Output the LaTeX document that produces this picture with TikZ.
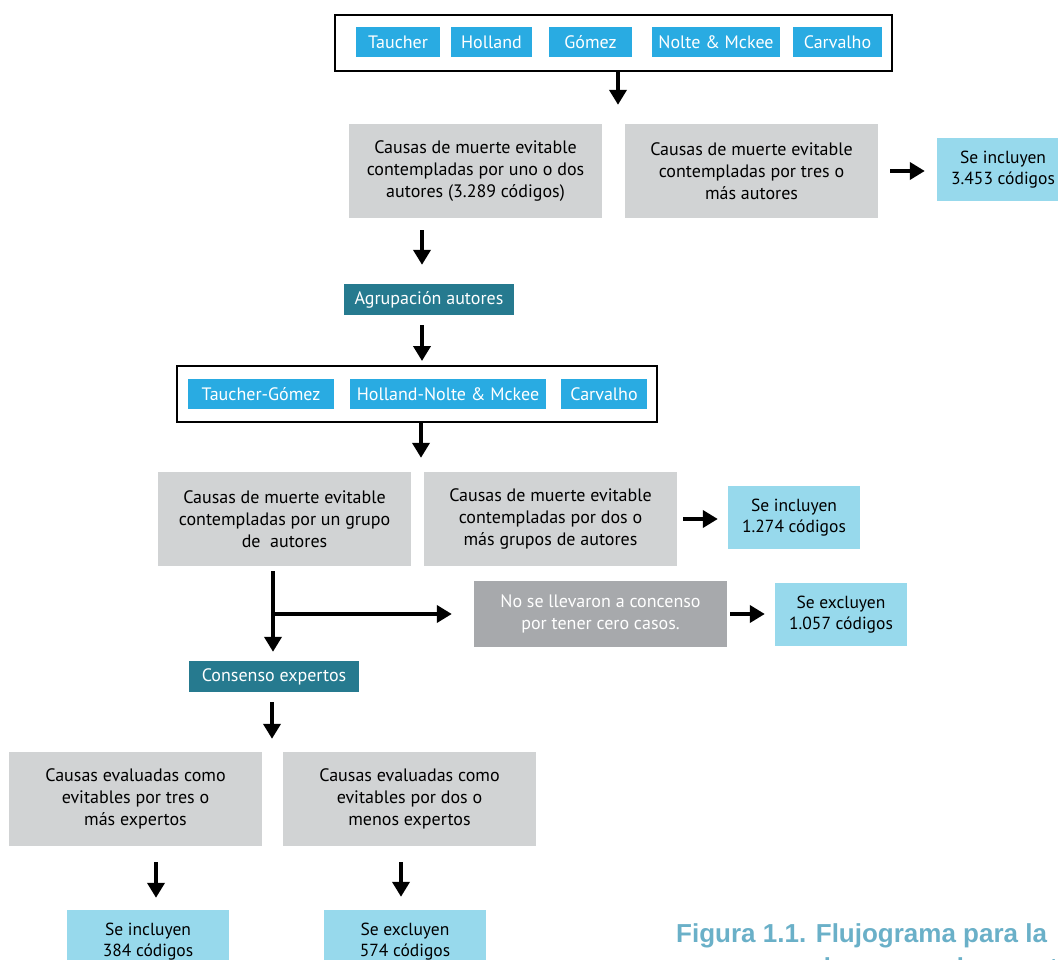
\documentclass[tikz,border=0pt]{standalone}
\usepackage{fontspec}
\setmainfont{PT Sans}
\newfontfamily\titulofont{Liberation Sans}
\usetikzlibrary{arrows.meta}
\definecolor{autorazul}{HTML}{29ABE2}
\definecolor{celeste}{HTML}{97D9EC}
\definecolor{grisclaro}{HTML}{D1D3D4}
\definecolor{grisoscuro}{HTML}{A7A9AC}
\definecolor{verdeazul}{HTML}{267A8F}
\definecolor{titulo}{HTML}{6AB0C8}
\tikzset{
	autor/.style={fill=autorazul, text=white, minimum height=30pt, inner sep=0pt, font=\fontsize{18}{20}\selectfont},
	marco/.style={draw, line width=2pt, minimum height=56pt, inner sep=0pt},
	causa/.style={fill=grisclaro, minimum width=253pt, minimum height=94pt, inner sep=0pt, align=center, font=\fontsize{18}{22}\selectfont},
	codigos/.style={fill=celeste, minimum height=63pt, inner sep=0pt, align=center, font=\fontsize{17.5}{21}\selectfont},
	paso/.style={fill=verdeazul, text=white, minimum width=170pt, minimum height=31pt, inner sep=0pt, font=\fontsize{18}{20}\selectfont},
	flecha/.style={line width=4pt, -{Triangle[width=17pt,length=15pt]}}
}
\begin{document}
\begin{tikzpicture}[x=1pt, y=-1pt]
		\useasboundingbox (0,0) rectangle (1058,960);
		\clip (0,0) rectangle (1058,960);
		%Autores
		\node[marco, minimum width=557pt] (marco1) at (613.5,43) {};
		\node[autor, minimum width=84pt] (taucher) at (398,42) {Taucher};
		\node[autor, minimum width=81pt] (holland) at (491.5,42) {Holland};
		\node[autor, minimum width=83pt] (gomez) at (590.5,42) {Gómez};
		\node[autor, minimum width=128pt] (nolte) at (716,42) {Nolte \& Mckee};
		\node[autor, minimum width=89pt] (carvalho) at (837.5,42) {Carvalho};
		
		\node[causa] (unodos) at (475.5,171) {Causas de muerte evitable\\contempladas por uno o dos\\autores (3.289 códigos)};
		\node[causa] (tresmas) at (751.5,171) {Causas de muerte evitable\\contempladas por tres o\\más autores};
		\node[codigos, minimum width=132pt] (incluyen1) at (1003,169.5) {Se incluyen\\3.453 códigos};
		
		\node[paso] (agrupacion) at (429,299.5) {Agrupación autores};
		
		%Grupos de autores
		\node[marco, minimum width=480pt] (marco2) at (417,394) {};
		\node[autor, minimum width=146pt] (tauchergomez) at (261,394) {Taucher-Gómez};
		\node[autor, minimum width=196pt] (hollandnolte) at (448,394) {Holland-Nolte \& Mckee};
		\node[autor, minimum width=86pt] (carvalho2) at (604,394) {Carvalho};
		
		\node[causa] (ungrupo) at (284.5,519) {Causas de muerte evitable\\contempladas por un grupo\\de~ autores};
		\node[causa] (dosgrupos) at (550.5,519) {Causas de muerte evitable\\contempladas por dos o\\más grupos de autores};
		\node[codigos, minimum width=132pt] (incluyen2) at (794,517.5) {Se incluyen\\1.274 códigos};
		
		\node[causa, fill=grisoscuro, text=white, minimum height=66pt] (nollevaron) at (600.5,614) {No se llevaron a concenso\\por tener cero casos.};
		\node[codigos, minimum width=132pt] (excluyen1) at (841,614.5) {Se excluyen\\1.057 códigos};
		
		\node[paso] (consenso) at (274,676.5) {Consenso expertos};
		
		%Expertos
		\node[causa] (tresexp) at (135.5,799) {Causas evaluadas como\\evitables por tres o\\más expertos};
		\node[causa] (dosexp) at (409.5,799) {Causas evaluadas como\\evitables por dos o\\menos expertos};
		\node[codigos, minimum width=162pt] (incluyen3) at (148,941.5) {Se incluyen\\384 códigos};
		\node[codigos, minimum width=162pt] (excluyen2) at (405,941.5) {Se excluyen\\574 códigos};
		
		%Flechas
		\draw[flecha, shorten >=19pt] ([xshift=4.5pt]marco1.south) -- ([xshift=4.5pt]marco1.south |- unodos.north);
		\draw[flecha, shorten <=12pt, shorten >=12pt] (tresmas.east) -- (tresmas.east -| incluyen1.west);
		\draw[flecha, shorten <=12pt, shorten >=19pt] ([xshift=-7pt]agrupacion.north |- unodos.south) -- ([xshift=-7pt]agrupacion.north);
		\draw[flecha, shorten <=10pt, shorten >=4pt] ([xshift=-7pt]agrupacion.south) -- ([xshift=-7pt]agrupacion.south |- marco2.north);
		\draw[flecha, shorten >=14pt] ([xshift=4pt]marco2.south) -- ([xshift=4pt]marco2.south |- ungrupo.north);
		\draw[flecha, shorten <=6pt, shorten >=10pt] (dosgrupos.east) -- (dosgrupos.east -| incluyen2.west);
		\coordinate (rama) at (273,614);
		\draw[flecha, shorten <=5pt, shorten >=9pt] (rama |- ungrupo.south) -- (rama |- consenso.north);
		\draw[flecha, shorten >=22pt] (rama) -- (nollevaron.west);
		\draw[flecha, shorten <=3pt, shorten >=10pt] (nollevaron.east) -- (nollevaron.east -| excluyen1.west);
		\draw[flecha, shorten <=10pt, shorten >=13pt] ([xshift=-2pt]consenso.south) -- ([xshift=-2pt]consenso.south |- tresexp.north);
		\draw[flecha, shorten <=16pt, shorten >=12pt] ([xshift=8pt]incluyen3.north |- tresexp.south) -- ([xshift=8pt]incluyen3.north);
		\draw[flecha, shorten <=16pt, shorten >=13pt] ([xshift=-4pt]excluyen2.north |- dosexp.south) -- ([xshift=-4pt]excluyen2.north);
		
		%Titulo
		\node[anchor=base west, inner sep=0pt, text=titulo, font=\titulofont\bfseries\fontsize{26}{30}\selectfont] (titulo1) at (676,942) {Figura 1.1. Flujograma para la};
		\node[anchor=base west, inner sep=0pt, text=titulo, font=\titulofont\bfseries\fontsize{26}{30}\selectfont] (titulo2) at (815,976) {de causas de muerte};
	\end{tikzpicture}
\end{document}
